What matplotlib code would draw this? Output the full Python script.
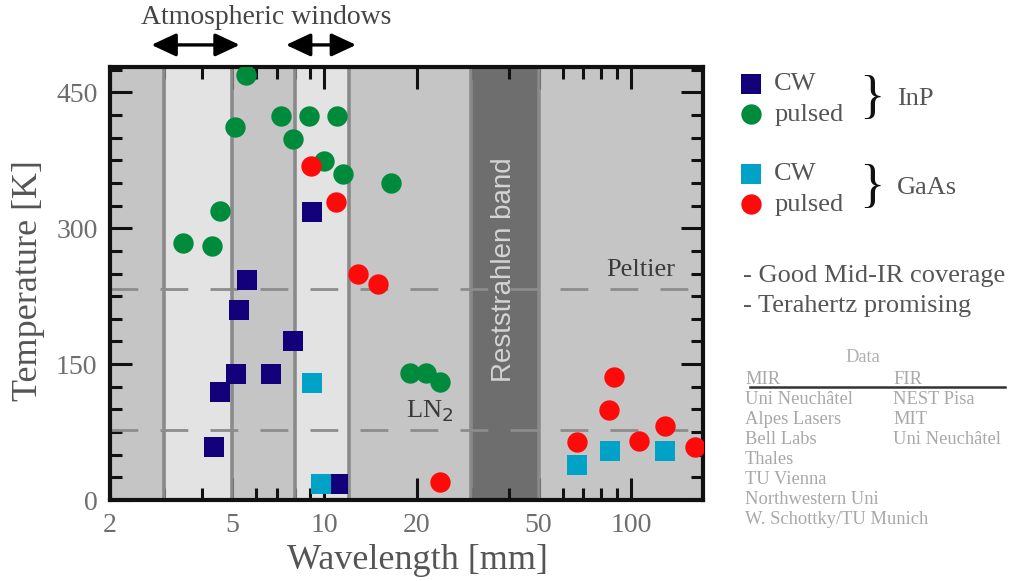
import matplotlib
matplotlib.use("Agg")
import matplotlib.pyplot as plt
from matplotlib.ticker import FixedLocator, FixedFormatter, NullFormatter

# ---- data: best operating temperature of quantum cascade lasers ----
inp_cw_wl = [9.1, 5.6, 5.26, 7.9, 5.14, 6.7, 4.56, 4.36, 11.1]
inp_cw_T = [318, 243, 210, 175, 139, 139, 119, 59, 18]

inp_pulsed_wl = [5.55, 5.11, 7.23, 8.93, 11.0, 7.9, 10.0, 11.5, 16.5,
                 4.56, 3.45, 4.3, 19.0, 21.4, 23.8]
inp_pulsed_T = [469, 412, 424, 424, 424, 399, 374, 360, 350,
                319, 284, 280, 140, 140, 130]

gaas_cw_wl = [9.1, 9.75, 67, 85.6, 129]
gaas_cw_T = [129, 18, 39, 54, 54]

gaas_pulsed_wl = [9.05, 10.9, 12.85, 14.95, 23.9, 88, 85, 67, 106, 129, 162]
gaas_pulsed_T = [369, 329, 249, 239, 19.5, 136, 99, 64, 65, 82, 59]

# spectral regions (wavelength, um) and reference temperatures (K)
atm_windows = [(3, 5), (8, 12)]
reststrahlen = (30, 50)
peltier_T = 233
ln2_T = 77

x_major = [2, 5, 10, 20, 50, 100]
x_minor = [3, 4, 6, 7, 8, 9, 30, 40, 60, 70, 80, 90]
y_major = [0, 150, 300, 450]
y_minor = list(range(0, 476, 25))

mir_groups = ["Uni Neuchâtel", "Alpes Lasers", "Bell Labs", "Thales",
              "TU Vienna", "Northwestern Uni", "W. Schottky/TU Munich"]
fir_groups = ["NEST Pisa", "MIT", "Uni Neuchâtel"]

# ---- style ----
SERIF = ["Liberation Serif", "DejaVu Serif"]
TXT = "#555555"
C_INP_CW = "#12007a"
C_INP_P = "#008a3c"
C_GAAS_CW = "#00a2c8"
C_GAAS_P = "#ff0a0a"

plt.rcParams["font.family"] = SERIF

fig = plt.figure(figsize=(10.12, 5.81), dpi=100)
W, H = 1012, 581
ax = fig.add_axes([110 / W, 81 / H, 593 / W, 433 / H])
ax.set_xscale("log")
ax.set_xlim(2, 172)
ax.set_ylim(0, 478)
ax.set_facecolor("#c5c5c5")
ax.set_axisbelow(True)

# background regions
for lo, hi in atm_windows:
    ax.axvspan(lo, hi, color="#e3e3e3", zorder=0.2, lw=0)
ax.axvspan(*reststrahlen, color="#6e6e6e", zorder=0.3, lw=0)
for xv in [atm_windows[0][0], atm_windows[0][1], atm_windows[1][0],
           atm_windows[1][1], reststrahlen[0], reststrahlen[1]]:
    ax.axvline(xv, color="#8a8a8a", lw=2.6, zorder=1)

for yv in (peltier_T, ln2_T):
    ax.axhline(yv, color="#8c8c8c", lw=2.0, dashes=(10, 8), zorder=1.5)

ax.text(140, peltier_T + 21, "Peltier", ha="right", va="center",
        fontsize=19, color="#3a3a3a", zorder=2)
ax.text(22.1, ln2_T + 21, r"LN$_2$", ha="center", va="center",
        fontsize=19, color="#3a3a3a", zorder=2)
ax.text(38.7, 254, "Reststrahlen band", rotation=90, ha="center", va="center",
        fontsize=20, color="#d4d4d4", family=["Liberation Sans", "DejaVu Sans"],
        zorder=2)

# data points
sq = dict(marker="s", s=190, linewidths=0, zorder=3)
ci = dict(marker="o", s=215, linewidths=0, zorder=3)
h_inp_cw = ax.scatter(inp_cw_wl, inp_cw_T, color=C_INP_CW, **sq)
h_inp_p = ax.scatter(inp_pulsed_wl, inp_pulsed_T, color=C_INP_P, **ci)
h_gaas_cw = ax.scatter(gaas_cw_wl, gaas_cw_T, color=C_GAAS_CW, **sq)
h_gaas_p = ax.scatter(gaas_pulsed_wl, gaas_pulsed_T, color=C_GAAS_P, **ci)

# axes, ticks
for sp in ax.spines.values():
    sp.set_linewidth(3)
    sp.set_color("#111111")
ax.xaxis.set_major_locator(FixedLocator(x_major))
ax.xaxis.set_major_formatter(FixedFormatter([str(v) for v in x_major]))
ax.xaxis.set_minor_locator(FixedLocator(x_minor))
ax.xaxis.set_minor_formatter(NullFormatter())
ax.yaxis.set_major_locator(FixedLocator(y_major))
ax.yaxis.set_minor_locator(FixedLocator(y_minor))
ax.tick_params(which="both", direction="in", top=True, right=True,
               color="#111111", width=2.2, labelcolor="#6e6e6e",
               labelsize=20)
ax.tick_params(which="major", length=15.5, pad=9)
ax.tick_params(which="minor", length=8.5)

ax.set_xlabel("Wavelength [mm]", fontsize=26, color=TXT)
ax.set_ylabel("Temperature [K]", fontsize=26, color=TXT)
ax.xaxis.set_label_coords(0.518, -0.139)
ax.yaxis.set_label_coords(-0.138, 0.506)
ax.xaxis.label.set_va("center")
ax.yaxis.label.set_va("center")

# atmospheric windows above the frame
fig.text(266 / W, 1 - 17 / H, "Atmospheric windows", ha="center",
         va="center", fontsize=20, color="#444444")
arrow_x = [(2.73, 5.3), (7.5, 12.7)]
for x0, x1 in arrow_x:
    ax.annotate("", xy=(x1, 1.051), xytext=(x0, 1.051),
                xycoords=("data", "axes fraction"),
                textcoords=("data", "axes fraction"),
                arrowprops=dict(arrowstyle="<|-|>,head_length=0.75,head_width=0.35",
                                mutation_scale=20, lw=2.4, color="black",
                                shrinkA=0, shrinkB=0),
                annotation_clip=False)

# legends grouped by substrate
leg_kw = dict(loc="upper left", frameon=False, fontsize=19, handlelength=0.8,
              handletextpad=0.5, labelspacing=0.25, borderpad=0,
              borderaxespad=0, labelcolor=TXT)
leg1 = fig.legend([h_inp_cw, h_inp_p], ["CW", "pulsed"],
                  bbox_to_anchor=(740 / W, 1 - 72 / H), **leg_kw)
leg2 = fig.legend([h_gaas_cw, h_gaas_p], ["CW", "pulsed"],
                  bbox_to_anchor=(740 / W, 1 - 162 / H), **leg_kw)

for yc, name in [(99, "InP"), (188, "GaAs")]:
    fig.text(872 / W, 1 - yc / H, "}", ha="center", va="center",
             fontsize=38, color="#111111")
    fig.text(897 / W, 1 - yc / H, name, ha="left", va="center",
             fontsize=19, color=TXT)

fig.text(743 / W, 1 - 276 / H, "- Good Mid-IR coverage", ha="left",
         va="center", fontsize=19, color=TXT)
fig.text(743 / W, 1 - 306 / H, "- Terahertz promising", ha="left",
         va="center", fontsize=19, color=TXT)

# data sources
TBL = "#a8a8a8"
TFS = 13.3
fig.text(863 / W, 1 - 358 / H, "Data", ha="center", va="center",
         fontsize=TFS, color="#b0b0b0")
fig.text(745 / W, 1 - 379 / H, "MIR", ha="left", va="center",
         fontsize=TFS, color=TBL)
fig.text(893 / W, 1 - 379 / H, "FIR", ha="left", va="center",
         fontsize=TFS, color=TBL)
fig.add_artist(plt.Line2D([750 / W, 1005 / W], [1 - 387 / H, 1 - 387 / H],
                          color="#333333", lw=1.8))
for i, name in enumerate(mir_groups):
    fig.text(745 / W, 1 - (399 + 20 * i) / H, name, ha="left", va="center",
             fontsize=TFS, color=TBL)
for i, name in enumerate(fir_groups):
    fig.text(893 / W, 1 - (399 + 20 * i) / H, name, ha="left", va="center",
             fontsize=TFS, color=TBL)

fig.savefig("out.png", dpi=100)
